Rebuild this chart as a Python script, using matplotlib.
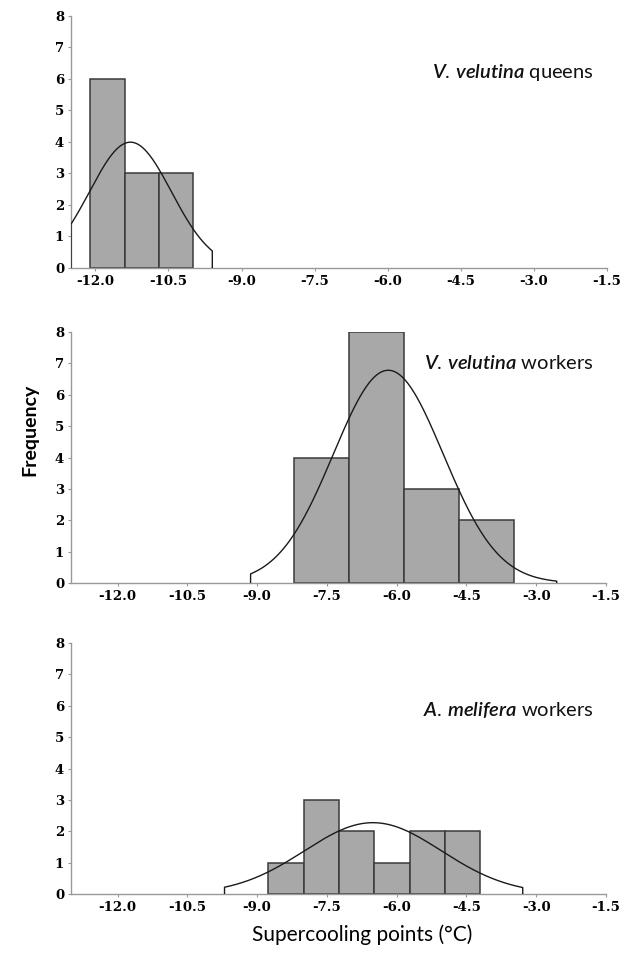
import numpy as np
import matplotlib
matplotlib.use("Agg")
import matplotlib.pyplot as plt

# Histogram data (bin edges in degC, counts)
queen_edges = [-12.1, -11.4, -10.7, -10.0]
queen_counts = [6, 3, 3]

worker_edges = [-8.2, -7.02, -5.84, -4.66, -3.48]
worker_counts = [4, 8, 3, 2]

bee_edges = [-8.77, -8.0, -7.24, -6.48, -5.72, -4.96, -4.2]
bee_counts = [1, 3, 2, 1, 2, 2]

# Normal fit parameters (mean, sd) and the x-range the fitted curve covers
queen_fit = (-11.28, 0.84)
worker_fit = (-6.18, 1.18)
bee_fit = (-6.51, 1.47)
queen_curve_range = (-12.5, -9.6)
worker_curve_range = (-9.14, -2.56)
bee_curve_range = (-9.70, -3.29)

titles = ["$\\it{V.\\,velutina}$ queens",
          "$\\it{V.\\,velutina}$ workers",
          "$\\it{A.\\,melifera}$ workers"]
title_y = [6.2, 7.0, 5.85]
xlims = [(-12.5, -1.5), (-13.0, -1.5), (-13.0, -1.5)]

x_ticks = [-12.0, -10.5, -9.0, -7.5, -6.0, -4.5, -3.0, -1.5]
x_tick_labels = ["-12.0", "-10.5", "-9.0", "-7.5", "-6.0", "-4.5", "-3.0", "-1.5"]
y_ticks = [0, 1, 2, 3, 4, 5, 6, 7, 8]

plt.rcParams['mathtext.fontset'] = 'custom'
plt.rcParams['mathtext.it'] = 'Lato:italic:semibold'
plt.rcParams['mathtext.rm'] = 'Lato'

fig = plt.figure(figsize=(6.3, 9.58), dpi=100)
boxes = [
    [0.1127, 0.7203, 0.8508, 0.2633],
    [0.1127, 0.3914, 0.8492, 0.2620],
    [0.1127, 0.0668, 0.8492, 0.2620],
]

panels = [
    (queen_edges, queen_counts, queen_fit, queen_curve_range),
    (worker_edges, worker_counts, worker_fit, worker_curve_range),
    (bee_edges, bee_counts, bee_fit, bee_curve_range),
]

for i, (edges, counts, fit, crange) in enumerate(panels):
    ax = fig.add_axes(boxes[i])
    edges = np.array(edges)
    widths = np.diff(edges)
    ax.bar(edges[:-1], counts, width=widths, align='edge',
           color='#a8a8a8', edgecolor='#3a3a3a', linewidth=1.1, zorder=2)

    # fitted normal curve scaled to counts, with vertical drops at the ends
    mu, sd = fit
    n = sum(counts)
    w = widths.mean()
    xs = np.linspace(crange[0], crange[1], 300)
    ys = n * w * np.exp(-0.5 * ((xs - mu) / sd) ** 2) / (sd * np.sqrt(2 * np.pi))
    xs = np.concatenate([[xs[0]], xs, [xs[-1]]])
    ys = np.concatenate([[0], ys, [0]])
    ax.plot(xs, ys, color='#1a1a1a', linewidth=1.0, zorder=3)

    ax.set_xlim(*xlims[i])
    ax.set_ylim(0, 8)
    ax.set_xticks(x_ticks)
    ax.set_xticklabels(x_tick_labels)
    ax.set_yticks(y_ticks)
    for lab in ax.get_xticklabels() + ax.get_yticklabels():
        lab.set_family('DejaVu Serif')
        lab.set_weight('bold')
        lab.set_size(9.5)
    ax.tick_params(axis='both', length=2, width=0.8, color='#999999', pad=3)
    for s in ['top', 'right']:
        ax.spines[s].set_visible(False)
    for s in ['left', 'bottom']:
        ax.spines[s].set_color('#999999')
        ax.spines[s].set_linewidth(1.0)
    ax.text(-1.77, title_y[i], titles[i], ha='right', va='center',
            fontsize=14.5, family='Lato', color='#111111')

fig.text(0.048, 0.551, "Frequency", rotation=90, ha='center', va='center',
         fontsize=14, family='Lato', weight='bold')
fig.text(0.575, 0.024, "Supercooling points (°C)", ha='center', va='center',
         fontsize=15, family='Lato')

fig.savefig("out.png", dpi=100)
